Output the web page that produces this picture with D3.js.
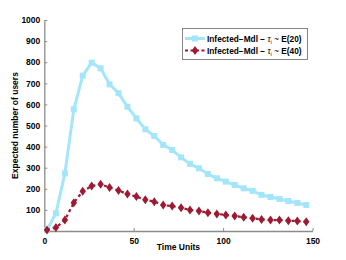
<!DOCTYPE html>
<html><head><meta charset="utf-8">
<script src="https://cdn.jsdelivr.net/npm/d3@7"></script>
<style>body{margin:0;background:#fff}svg{display:block}text{font-family:"Liberation Sans",Arial,sans-serif;font-weight:bold}</style>
</head><body><svg id="c" width="346" height="260"></svg>
<script>
const xValues = [1.5,6.5,11.5,16.5,21.5,26.5,31.5,36.5,41.5,46.5,51.5,56.5,61.5,66.5,71.5,76.5,81.5,86.5,91.5,96.5,101.5,106.5,111.5,116.5,121.5,126.5,131.5,136.5,141.5,146.5];
const seriesE20 = [5,84,273,577,736,798,771,695,653,589,534,482,450,408,384,349,318,297,270,250,234,218,202,190,171,161,152,142,133,123];
const seriesE40 = [5,16,52,134,188,213,221,206,192,175,163,148,139,123,118,110,100,95,87,81,76,71,65,60,55,52,52,49,47,44];
const xTicks = [0,50,100,150];
const yTicks = [100,200,300,400,500,600,700,800,900,1000];
const legendLabels = ["Infected\u2212Mdl \u2212  ", "Infected\u2212Mdl \u2212  "];
const legendDist = ["E(20)","E(40)"];

const svg = d3.select("#c");
const L=44.3, R=312.5, T=20, B=231;
const x = d3.scaleLinear().domain([0,150]).range([L,R]);
const y = d3.scaleLinear().domain([0,1000]).range([B,T]);
const axisColor="#8c8c8c";

const xa = svg.append("g").attr("transform",`translate(0,${B})`)
  .call(d3.axisBottom(x).tickValues(xTicks).tickFormat(d3.format("d")).tickSizeInner(-3).tickSizeOuter(0).tickPadding(5));
const ya = svg.append("g").attr("transform",`translate(${L},0)`)
  .call(d3.axisLeft(y).tickValues(yTicks).tickFormat(d3.format("d")).tickSizeInner(-3).tickSizeOuter(0).tickPadding(4));
[xa,ya].forEach(a=>{
  a.select(".domain").attr("stroke",axisColor).attr("stroke-width",1.3);
  a.selectAll(".tick line").attr("stroke",axisColor);
  a.selectAll(".tick text").attr("fill","#000").style("font-size","8.5px").style("font-weight","bold").style("font-family","Liberation Sans, Arial, sans-serif");
});
xa.selectAll(".tick text").attr("dy","0.9em");

svg.append("text").attr("x",(L+R)/2).attr("y",250).attr("text-anchor","middle").style("font-size","8.5px").text("Time Units");
svg.append("text").attr("transform",`translate(18,${(T+B)/2}) rotate(-90)`).attr("text-anchor","middle").style("font-size","8.5px").text("Expected number of users");

const blue="#a3e6fb", red="#9c1a32";
const line = d3.line().x((d,i)=>x(xValues[i])).y(d=>y(d));

svg.append("path").datum(seriesE20).attr("d",line).attr("fill","none").attr("stroke",blue).attr("stroke-width",3);
svg.append("g").selectAll("rect").data(seriesE20).join("rect")
  .attr("x",(d,i)=>x(xValues[i])-3).attr("y",d=>y(d)-3).attr("width",6).attr("height",6).attr("fill",blue);

svg.append("path").datum(seriesE40).attr("d",line).attr("fill","none").attr("stroke",red).attr("stroke-width",2.2).attr("stroke-dasharray","3,3");
const diamond = (cx,cy)=>`M${cx},${cy-4.5}L${cx+3.2},${cy}L${cx},${cy+4.5}L${cx-3.2},${cy}Z`;
svg.append("g").selectAll("path").data(seriesE40).join("path")
  .attr("d",(d,i)=>diamond(x(xValues[i]),y(d))).attr("fill",red);

// legend
const lg = svg.append("g");
lg.append("rect").attr("x",182.5).attr("y",28.5).attr("width",125).attr("height",31).attr("fill","#fff").attr("stroke","#666").attr("stroke-width",0.8);
const rows=[38.5,50.5];
lg.append("line").attr("x1",185).attr("x2",205).attr("y1",rows[0]).attr("y2",rows[0]).attr("stroke",blue).attr("stroke-width",3);
lg.append("rect").attr("x",192).attr("y",rows[0]-3).attr("width",6).attr("height",6).attr("fill",blue);
lg.append("line").attr("x1",185).attr("x2",205).attr("y1",rows[1]).attr("y2",rows[1]).attr("stroke",red).attr("stroke-width",2.2).attr("stroke-dasharray","3,2.5");
lg.append("path").attr("d",diamond(195,rows[1])).attr("fill",red);
legendLabels.forEach((t,i)=>{
  const tx = lg.append("text").attr("x",207).attr("y",rows[i]+3).style("font-size","8.3px");
  tx.append("tspan").text(t);
  tx.append("tspan").style("font-weight","normal").style("font-style","italic").text("\u03c4");
  tx.append("tspan").attr("dy",2.5).style("font-size","5.5px").style("font-weight","normal").text("i");
  tx.append("tspan").attr("dy",-2.5).style("font-weight","normal").text(" ~ ");
  tx.append("tspan").text(legendDist[i]);
});
</script></body></html>
